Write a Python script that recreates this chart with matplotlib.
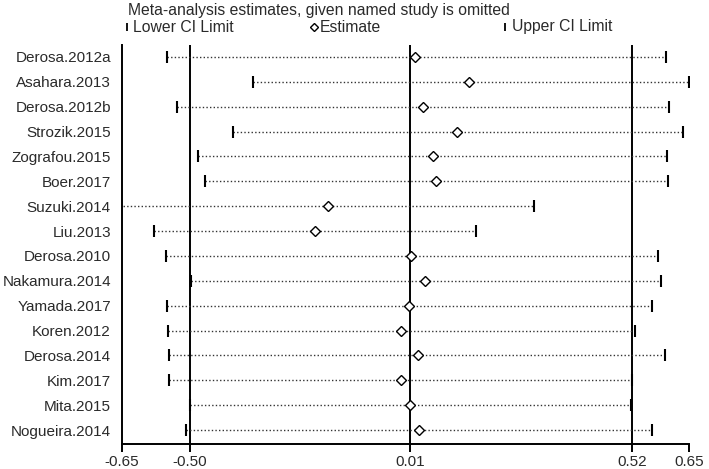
#!/usr/bin/env python3

import numpy as np
import matplotlib.pyplot as plt
from matplotlib.lines import Line2D

studies = [
    "Derosa.2012a", "Asahara.2013", "Derosa.2012b", "Strozik.2015",
    "Zografou.2015", "Boer.2017", "Suzuki.2014", "Liu.2013",
    "Derosa.2010", "Nakamura.2014", "Yamada.2017", "Koren.2012",
    "Derosa.2014", "Kim.2017", "Mita.2015", "Nogueira.2014",
]
estimate = [0.022, 0.146, 0.040, 0.118, 0.063, 0.070, -0.178, -0.208,
            0.013, 0.045, 0.008, -0.010, 0.029, -0.010, 0.010, 0.031]
lower = [-0.547, -0.350, -0.524, -0.395, -0.476, -0.460, -0.690, -0.577,
         -0.549, -0.492, -0.547, -0.545, -0.542, -0.542, -0.494, -0.503]
upper = [0.597, 0.650, 0.604, 0.636, 0.599, 0.602, 0.295, 0.162,
         0.579, 0.586, 0.565, 0.526, 0.595, 0.520, 0.517, 0.565]

ref_lines = [-0.495, 0.01, 0.52]
tick_pos = [-0.65, -0.495, 0.01, 0.52, 0.65]
tick_labels = ["-0.65", "-0.50", "0.01", "0.52", "0.65"]

plt.rcParams["font.family"] = ["Liberation Sans", "DejaVu Sans"]
txt_color = "#2a2a2a"
fs = 11.0

fig = plt.figure(figsize=(7.09, 4.69), dpi=100)
ax = fig.add_axes([122 / 709, 1 - 444 / 469, 567 / 709, 399 / 469])

n = len(studies)
y = np.arange(n)

for v in ref_lines:
    ax.axvline(v, color="black", linewidth=1.4, zorder=1)

for i in range(n):
    ax.plot([lower[i], upper[i]], [y[i], y[i]], color="#333333",
            linewidth=1.0, linestyle=(0, (1, 1.6)), zorder=2)

ax.plot(lower, y, linestyle="none", marker="|", markersize=9,
        markeredgewidth=1.5, color="black", zorder=3)
ax.plot(upper, y, linestyle="none", marker="|", markersize=9,
        markeredgewidth=1.5, color="black", zorder=3)
ax.plot(estimate, y, linestyle="none", marker="D", markersize=4.6,
        markerfacecolor="white", markeredgecolor="black",
        markeredgewidth=1.0, zorder=4)

ax.set_xlim(-0.65, 0.65)
ax.set_ylim(n - 1 + 0.56, -0.48)

ax.set_yticks(y)
ax.set_yticklabels(studies, fontsize=fs, color=txt_color)
ax.tick_params(axis="y", length=0, pad=8)

ax.set_xticks(tick_pos)
ax.set_xticklabels(tick_labels, fontsize=fs, color=txt_color)
ax.tick_params(axis="x", length=6, width=1.4, pad=2)

for side in ["top", "right"]:
    ax.spines[side].set_visible(False)
for side in ["left", "bottom"]:
    ax.spines[side].set_linewidth(1.4)

fig.text(128 / 709, 1 - 10 / 469,
         "Meta-analysis estimates, given named study is omitted",
         fontsize=11.3, color=txt_color, va="center", ha="left")

ly = 1 - 27 / 469
fig.add_artist(Line2D([127 / 709], [ly], marker="|", markersize=6,
                      markeredgewidth=1.3, color="black",
                      transform=fig.transFigure))
fig.text(133 / 709, ly, "Lower CI Limit", fontsize=11.3, color=txt_color,
         va="center", ha="left")
fig.add_artist(Line2D([314 / 709], [ly], marker="D", markersize=4.2,
                      markerfacecolor="white", markeredgecolor="black",
                      markeredgewidth=1.0, transform=fig.transFigure))
fig.text(320 / 709, ly, "Estimate", fontsize=11.3, color=txt_color,
         va="center", ha="left")
fig.add_artist(Line2D([505 / 709], [ly], marker="|", markersize=6,
                      markeredgewidth=1.3, color="black",
                      transform=fig.transFigure))
fig.text(512 / 709, ly, "Upper CI Limit", fontsize=11.3, color=txt_color,
         va="center", ha="left")

fig.savefig("out.png", dpi=100)
plt.close(fig)
